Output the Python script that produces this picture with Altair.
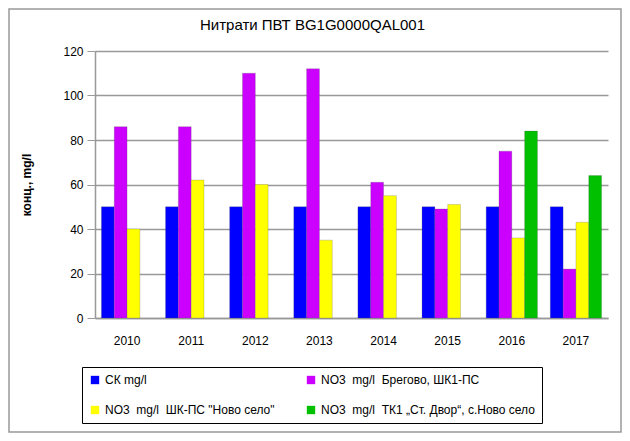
import altair as alt
import pandas as pd

years = ["2010", "2011", "2012", "2013", "2014", "2015", "2016", "2017"]
series = [
    "СК mg/l",
    "NO3\u00a0 mg/l\u00a0 Брегово, ШК1-ПС",
    "NO3\u00a0 mg/l\u00a0 ШК-ПС \"Ново село\"",
    "NO3\u00a0 mg/l\u00a0 ТК1 „Ст. Двор“, с.Ново село",
]
colors = ["#0000FF", "#CC00FF", "#FFFF00", "#00C000"]
ck = [50, 50, 50, 50, 50, 50, 50, 50]
bregovo = [86, 86, 110, 112, 61, 49, 75, 22]
novo_selo = [40, 62, 60, 35, 55, 51, 36, 43]
st_dvor = [None, None, None, None, None, None, 84, 64]

rows = []
for vals, s in zip([ck, bregovo, novo_selo, st_dvor], series):
    for y, v in zip(years, vals):
        if v is not None:
            rows.append({"year": y, "series": s, "value": v})
df = pd.DataFrame(rows)

W, H = 513, 267
FONT = "Liberation Sans Narrow, Liberation Sans, sans-serif"

xscale = alt.Scale(paddingInner=0.2, paddingOuter=0.1)

bars = alt.Chart(df).mark_bar(stroke="#555", strokeWidth=0.4, strokeOpacity=0.6).encode(
    x=alt.X("year:N", sort=years, scale=xscale,
            axis=alt.Axis(title=None, labelAngle=0, ticks=False, labelPadding=17,
                          labelFontSize=12, labelColor="#000", domainColor="#999",
                          domainWidth=1.5, labelFont=FONT)),
    xOffset=alt.XOffset("series:N", sort=series, scale=alt.Scale(domain=series)),
    y=alt.Y("value:Q", scale=alt.Scale(domain=[0, 120]),
            axis=alt.Axis(title="конц., mg/l", values=[0, 20, 40, 60, 80, 100, 120],
                          titleFontSize=12, titleFontWeight="bold", titleFont=FONT,
                          titleX=-62, titleY=H / 2, titleColor="#000",
                          labelFontSize=12, labelColor="#000", labelFont=FONT,
                          labelPadding=4, tickSize=8, tickColor="#999",
                          domainColor="#999", domainWidth=1.5,
                          gridColor="#999", gridWidth=1.5)),
    color=alt.Color("series:N", sort=series,
                    scale=alt.Scale(domain=series, range=colors),
                    legend=alt.Legend(title=None, orient="none", legendX=-13, legendY=316,
                                      columns=2, direction="horizontal",
                                      columnPadding=30, rowPadding=18,
                                      symbolType="square", symbolSize=70,
                                      symbolStrokeWidth=0, labelFontSize=12,
                                      labelFont=FONT, labelColor="#000",
                                      labelLimit=300, strokeColor="#000",
                                      padding=7, offset=0)),
)

border = alt.Chart(pd.DataFrame({"a": [0]})).mark_rect(
    fill=None, stroke="#999", strokeWidth=1.5, clip=False
).encode(
    x=alt.value(-86), x2=alt.value(526), y=alt.value(-42), y2=alt.value(381)
)

chart = alt.layer(border, bars).properties(
    width=W, height=H,
    title=alt.TitleParams("Нитрати ПВТ BG1G0000QAL001", fontSize=15,
                          fontWeight="normal", font=FONT, color="#000",
                          anchor="middle", frame="group", dx=-39, dy=25, offset=0),
    autosize=alt.AutoSizeParams(type="none"),
    padding={"left": 87, "top": 43, "right": 14, "bottom": 115},
).configure_view(stroke=None)

chart.save("out.html", embed_options={"renderer": "svg", "actions": False})
